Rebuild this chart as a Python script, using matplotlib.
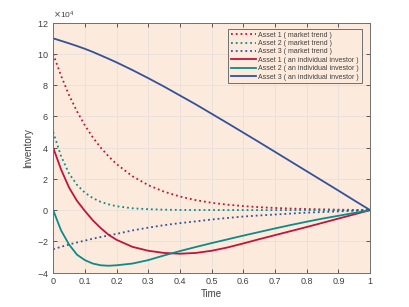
import numpy as np
import matplotlib
matplotlib.use("Agg")
import matplotlib.pyplot as plt
from matplotlib.ticker import ScalarFormatter

plt.rcParams['font.family'] = ['Liberation Sans', 'DejaVu Sans']

# time grid (finer near t = 0 where curves bend fast)
t = [0, 0.025, 0.05, 0.075, 0.1, 0.125, 0.15, 0.175, 0.2, 0.25, 0.3, 0.35,
     0.4, 0.45, 0.5, 0.55, 0.6, 0.65, 0.7, 0.75, 0.8, 0.85, 0.9, 0.95, 1.0]

# inventory values, in units of 1e4
market_1 = [10, 8.6, 7.37, 6.33, 5.43, 4.66, 4.0, 3.44, 2.95, 2.17, 1.6, 1.18,
            0.87, 0.64, 0.47, 0.35, 0.26, 0.19, 0.14, 0.1, 0.07, 0.05, 0.03, 0.015, 0]
market_2 = [5, 3.45, 2.35, 1.62, 1.12, 0.77, 0.53, 0.37, 0.25, 0.12, 0.06, 0.03,
            0.015, 0.01, 0.007, 0.005, 0.004, 0.003, 0.002, 0.001, 0.001, 0, 0, 0, 0]
market_3 = [-2.5, -2.35, -2.2, -2.07, -1.95, -1.83, -1.72, -1.62, -1.52, -1.3, -1.12, -0.96,
            -0.83, -0.72, -0.6, -0.5, -0.41, -0.34, -0.28, -0.22, -0.16, -0.12, -0.08, -0.04, 0]
indiv_1 = [4.0, 2.6, 1.45, 0.6, -0.05, -0.65, -1.15, -1.58, -1.9, -2.35, -2.6, -2.74,
           -2.79, -2.74, -2.6, -2.39, -2.13, -1.86, -1.6, -1.34, -1.08, -0.81, -0.54, -0.27, 0]
indiv_2 = [0, -1.3, -2.2, -2.85, -3.2, -3.42, -3.53, -3.56, -3.53, -3.42, -3.2, -2.9,
           -2.62, -2.36, -2.11, -1.87, -1.63, -1.4, -1.17, -0.95, -0.74, -0.54, -0.36, -0.18, 0]
indiv_3 = [11, 10.84, 10.68, 10.51, 10.33, 10.13, 9.91, 9.69, 9.46, 8.97, 8.45, 7.91,
           7.34, 6.77, 6.17, 5.57, 4.96, 4.35, 3.73, 3.11, 2.49, 1.87, 1.25, 0.62, 0]

labels = ['Asset 1 ( market trend )', 'Asset 2 ( market trend )', 'Asset 3 ( market trend )',
          'Asset 1 ( an individual investor )', 'Asset 2 ( an individual investor )',
          'Asset 3 ( an individual investor )']

red = '#c0143c'
teal = '#0e8a8a'
blue = '#34519a'
grey = '#404040'

fig = plt.figure(figsize=(4.09, 3.07), dpi=100)
ax = fig.add_axes([0.130, 0.112, 0.775, 0.814])
ax.set_facecolor('#fcebdd')

t = np.array(t)
series = [market_1, market_2, market_3, indiv_1, indiv_2, indiv_3]
colors = [red, teal, blue, red, teal, blue]
styles = [':', ':', ':', '-', '-', '-']
for y, c, ls, lab in zip(series, colors, styles, labels):
    ax.plot(t, np.array(y) * 1e4, color=c, ls=ls, lw=1.3, label=lab)

ax.set_xlim(0, 1)
ax.set_ylim(-4e4, 12e4)
ax.set_xticks(np.arange(0, 1.01, 0.1))
ax.set_xticklabels(['0', '0.1', '0.2', '0.3', '0.4', '0.5', '0.6', '0.7', '0.8', '0.9', '1'])
ax.set_yticks(np.arange(-4e4, 12.1e4, 2e4))
fmt = ScalarFormatter(useMathText=True)
fmt.set_powerlimits((4, 4))
ax.yaxis.set_major_formatter(fmt)
ax.yaxis.get_offset_text().set_fontsize(6)
ax.yaxis.get_offset_text().set_color(grey)

ax.tick_params(direction='in', length=3, width=0.6, labelsize=6.5, colors=grey,
               top=True, right=True, pad=3)
for s in ax.spines.values():
    s.set_color('#707070')
    s.set_linewidth(0.7)
ax.grid(True, color='#e6e1dc', lw=0.6)
ax.set_axisbelow(True)

ax.set_xlabel('Time', fontsize=7, color=grey, labelpad=2)
ax.set_ylabel('Inventory', fontsize=7, color=grey, labelpad=3)

leg = ax.legend(loc='upper right', bbox_to_anchor=(0.985, 0.989), fontsize=5.0,
                handlelength=3.6, handletextpad=0.4, labelspacing=0.2,
                borderpad=0.4, fancybox=False, framealpha=1)
leg.get_frame().set_facecolor('#fcebdd')
leg.get_frame().set_edgecolor('#707070')
leg.get_frame().set_linewidth(0.7)
for txt in leg.get_texts():
    txt.set_color(grey)

fig.savefig('out.png', dpi=100)
